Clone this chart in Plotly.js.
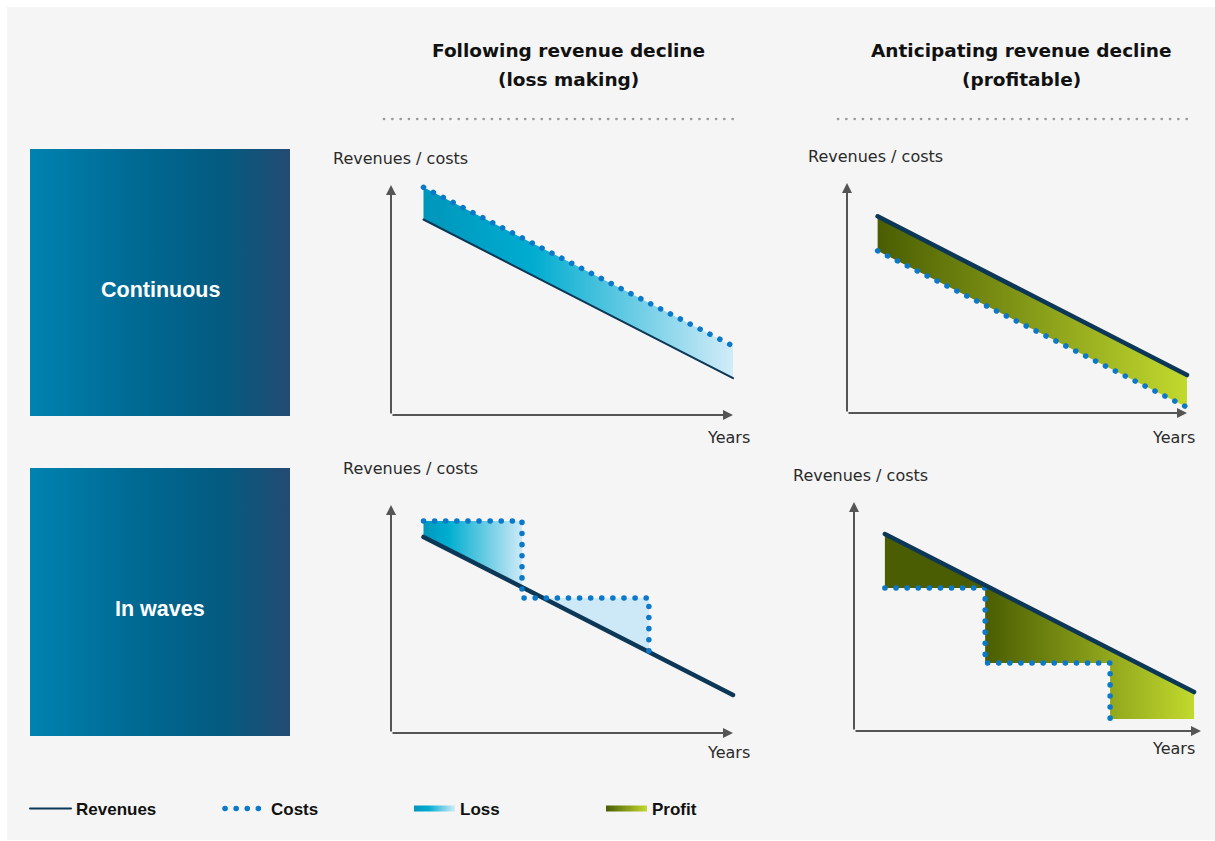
<!DOCTYPE html>
<html>
<head>
<meta charset="utf-8">
<script src="https://cdn.plot.ly/plotly-3.0.1.min.js"></script>
<style>
  html, body { margin: 0; padding: 0; background: #ffffff; }
  #chart { width: 1215px; height: 841px; }
  /* round dots for the dotted cost lines and separators */
  #chart .js-line { stroke-linecap: round; }
  #chart .shapelayer path { stroke-linecap: round; }
</style>
</head>
<body>
<div id="chart"></div>
<script>
const W = 1215, H = 841;

// Headings and labels
const columnTitles = [['Following revenue decline', '(loss making)'], ['Anticipating revenue decline', '(profitable)']];
const rowLabels = ['Continuous', 'In waves'];
const yLabel = 'Revenues / costs';
const xLabel = 'Years';
const legendNames = ['Revenues', 'Costs', 'Loss', 'Profit'];

// Continuous decline: straight lines from first to last year
const lossContYears = [0.95, 10];
const lossContRevenues = [8.5, 1.6];
const lossContCosts = [9.9, 3.0];

const profitContYears = [0.9, 10];
const profitContRevenues = [8.55, 1.65];
const profitContCosts = [7.05, 0.25];

// Decline in waves: revenues fall steadily, costs move in steps
const lossWaveYears = [0.95, 10];
const lossWaveRevenues = [8.6, 1.67];
const lossWaveStepYears = [0.95, 3.83, 7.54];
const lossWaveStepCosts = [9.3, 5.92, 3.42];

const profitWaveYears = [0.89, 9.8];
const profitWaveRevenues = [8.6, 1.7];
const profitWaveStepYears = [0.89, 3.78, 7.38];
const profitWaveStepCosts = [6.24, 2.97, 0.52];

// Colours
const REV = '#0c3756';
const COST = '#0b78c9';
const AXIS = '#555555';
const lossScale = [[0, '#0096bb'], [0.35, '#00acd0'], [1, '#d2ecf9']];
const lossWaveScale = [[0, '#0098bc'], [0.25, '#00aed0'], [1, '#cde9f7']];
const profitScale = [[0, '#4a5d02'], [1, '#c2d92e']];
const boxScale = [[0, '#0082b0'], [0.4, '#006a93'], [0.75, '#045a80'], [1, '#244a72']];

// ---- helpers -------------------------------------------------------
function lineAt(xs, ys, x) { return ys[0] + (ys[1] - ys[0]) * (x - xs[0]) / (xs[1] - xs[0]); }
function xAt(xs, ys, y) { return xs[0] + (xs[1] - xs[0]) * (y - ys[0]) / (ys[1] - ys[0]); }

// area between two straight lines sharing the same years
function bandBetween(xs, upper, lower) {
  return {
    x: [xs[0], xs[1], xs[1], xs[0], xs[0]],
    y: [upper[0], upper[1], lower[1], lower[0], upper[0]]
  };
}

// area between a straight revenue line and a stepped cost line
function stepGap(revX, revY, stepX, stepY, costsAbove, extendLast) {
  const px = [], py = [];
  const n = stepX.length;
  const last = extendLast ? n : n - 1;
  for (let i = 0; i < last; i++) {
    const a = stepX[i];
    const b = i + 1 < n ? stepX[i + 1] : revX[revX.length - 1];
    const level = stepY[i];
    const cross = xAt(revX, revY, level);
    let x0 = a, x1 = b;
    if (costsAbove) x0 = Math.max(a, cross); else x1 = Math.min(b, cross);
    if (x1 <= x0) continue;
    if (px.length) { px.push(null); py.push(null); }
    px.push(x0, x1, x1, x0, x0);
    py.push(level, level, lineAt(revX, revY, x1), lineAt(revX, revY, x0), level);
  }
  return { x: px, y: py };
}

// ---- panel geometry (pixels: axis origin and arrow tips) -----------
const frames = [
  { ox: 391, oy: 415, tx: 733, ty: 185 },
  { ox: 847, oy: 413, tx: 1187, ty: 183 },
  { ox: 391, oy: 733, tx: 733, ty: 505 },
  { ox: 854, oy: 731, tx: 1201, ty: 502 }
];
const axisIds = [['x', 'y'], ['x2', 'y2'], ['x3', 'y3'], ['x4', 'y4']];

const layout = {
  width: W, height: H,
  margin: { l: 0, r: 0, t: 0, b: 0 },
  paper_bgcolor: '#ffffff',
  plot_bgcolor: 'rgba(0,0,0,0)',
  showlegend: true,
  hovermode: false,
  shapes: [
    { type: 'rect', xref: 'paper', yref: 'paper', x0: 7 / W, x1: 1, y0: 1 - 840 / H, y1: 1 - 7 / H,
      fillcolor: '#f5f5f5', line: { width: 0 }, layer: 'below' },
    { type: 'line', xref: 'paper', yref: 'paper', x0: 384 / W, x1: 739 / W, y0: 1 - 119 / H, y1: 1 - 119 / H,
      line: { color: '#9a9a9a', width: 2.6, dash: '0.1px,8.2px' } },
    { type: 'line', xref: 'paper', yref: 'paper', x0: 838 / W, x1: 1192 / W, y0: 1 - 119 / H, y1: 1 - 119 / H,
      line: { color: '#9a9a9a', width: 2.6, dash: '0.1px,8.2px' } }
  ],
  annotations: []
};

// One legend box per key so each entry sits at its own position along the bottom
const legendIds = ['legend', 'legend2', 'legend3', 'legend4'];
const legendLeft = [25, 220, 409, 601];
legendIds.forEach((id, i) => {
  layout[id] = {
    orientation: 'h', x: legendLeft[i] / W, xanchor: 'left', y: 1 - 809 / H, yanchor: 'middle',
    font: { family: 'Liberation Sans, Arial, sans-serif', size: 17, color: '#111111', weight: 700 },
    itemwidth: 41, bgcolor: 'rgba(0,0,0,0)', borderwidth: 0,
    itemclick: false, itemdoubleclick: false
  };
});

const hiddenAxis = { visible: false, showgrid: false, zeroline: false, fixedrange: true };

frames.forEach((f, i) => {
  const sx = (f.tx - f.ox) / 10, sy = (f.oy - f.ty) / 10;
  const left = f.ox - 22, right = Math.min(W, f.tx + 18);
  const bottom = f.oy + 22, top = f.ty - 18;
  const xr = [(left - f.ox) / sx, (right - f.ox) / sx];
  const yr = [(f.oy - bottom) / sy, (f.oy - top) / sy];
  const xk = i === 0 ? 'xaxis' : 'xaxis' + (i + 1);
  const yk = i === 0 ? 'yaxis' : 'yaxis' + (i + 1);
  layout[xk] = Object.assign({}, hiddenAxis, { domain: [left / W, right / W], range: xr, anchor: axisIds[i][1] });
  layout[yk] = Object.assign({}, hiddenAxis, { domain: [1 - bottom / H, 1 - top / H], range: yr, anchor: axisIds[i][0] });

  const [xa, ya] = axisIds[i];
  const arrow = { xref: xa, yref: ya, axref: xa, ayref: ya, ax: 0, ay: 0, text: '', showarrow: true,
    arrowhead: 2, arrowsize: 1, arrowwidth: 2, arrowcolor: AXIS, standoff: 0, startstandoff: 0 };
  layout.annotations.push(Object.assign({}, arrow, { x: 10, y: 0 }));
  layout.annotations.push(Object.assign({}, arrow, { x: 0, y: 10 }));
});

// text placed by its centre in page pixels
function label(text, cx, cy, font) {
  return { xref: 'paper', yref: 'paper', x: cx / W, y: 1 - cy / H, xanchor: 'center', yanchor: 'middle',
    text: text, showarrow: false, font: font };
}

// Box panels for the row headings
const boxes = [{ x0: 30, x1: 290, y0: 149, y1: 416 }, { x0: 30, x1: 290, y0: 468, y1: 736 }];
const rowLabelY = [290, 609];
const rowFont = { family: 'Liberation Sans, Arial, sans-serif', size: 21.5, color: '#ffffff', weight: 700 };
boxes.forEach((b, i) => {
  const n = i + 5;
  layout['xaxis' + n] = Object.assign({}, hiddenAxis, { domain: [b.x0 / W, b.x1 / W], range: [0, 1], anchor: 'y' + n });
  layout['yaxis' + n] = Object.assign({}, hiddenAxis, { domain: [1 - b.y1 / H, 1 - b.y0 / H], range: [0, 1], anchor: 'x' + n });
  layout.annotations.push(label(rowLabels[i], (b.x0 + b.x1) / 2, rowLabelY[i], rowFont));
});

// Column titles
const titleFont = { family: 'DejaVu Sans, sans-serif', size: 18.5, color: '#111111', weight: 700 };
[[568, columnTitles[0]], [1021, columnTitles[1]]].forEach(([cx, lines]) => {
  layout.annotations.push(label(lines[0], cx, 50, titleFont));
  layout.annotations.push(label(lines[1], cx, 79, titleFont));
});

// Axis captions
const capFont = { family: 'DejaVu Sans, sans-serif', size: 16, color: '#2a2a2a' };
const yCaps = [[400, 158], [875, 157], [410, 468], [861, 475]];
const xCaps = [[728, 437], [1173, 437], [728, 752], [1173, 748]];
yCaps.forEach(([cx, cy]) => layout.annotations.push(label(yLabel, cx, cy, capFont)));
xCaps.forEach(([cx, cy]) => layout.annotations.push(label(xLabel, cx, cy, capFont)));

// ---- traces --------------------------------------------------------
const traces = [];
const dotted = { color: COST, width: 5.5, dash: '0.1px,11px' };

function fillTrace(poly, xa, ya, grad, opts) {
  return Object.assign({
    type: 'scatter', mode: 'none', x: poly.x, y: poly.y, xaxis: xa, yaxis: ya,
    fill: 'toself', fillgradient: grad, hoverinfo: 'skip', showlegend: false, connectgaps: false
  }, opts || {});
}

// Row boxes
boxes.forEach((b, i) => {
  const n = i + 5;
  traces.push(fillTrace({ x: [0, 1, 1, 0, 0], y: [0, 0, 1, 1, 0] }, 'x' + n, 'y' + n,
    { type: 'horizontal', colorscale: boxScale }));
});

// Continuous / loss making
traces.push(fillTrace(bandBetween(lossContYears, lossContCosts, lossContRevenues), 'x', 'y',
  { type: 'horizontal', colorscale: lossScale }, { name: legendNames[2], showlegend: true, legend: legendIds[2] }));
traces.push({ type: 'scatter', mode: 'lines', x: lossContYears, y: lossContRevenues, xaxis: 'x', yaxis: 'y',
  line: { color: REV, width: 2 }, name: legendNames[0], showlegend: true, legend: legendIds[0], hoverinfo: 'skip' });
traces.push({ type: 'scatter', mode: 'lines', x: lossContYears, y: lossContCosts, xaxis: 'x', yaxis: 'y',
  line: dotted, name: legendNames[1], showlegend: true, legend: legendIds[1], hoverinfo: 'skip' });

// Continuous / profitable
traces.push(fillTrace(bandBetween(profitContYears, profitContRevenues, profitContCosts), 'x2', 'y2',
  { type: 'horizontal', colorscale: profitScale }, { name: legendNames[3], showlegend: true, legend: legendIds[3] }));
traces.push({ type: 'scatter', mode: 'lines', x: profitContYears, y: profitContCosts, xaxis: 'x2', yaxis: 'y2',
  line: dotted, showlegend: false, hoverinfo: 'skip' });
traces.push({ type: 'scatter', mode: 'lines', x: profitContYears, y: profitContRevenues, xaxis: 'x2', yaxis: 'y2',
  line: { color: REV, width: 4.5 }, showlegend: false, hoverinfo: 'skip' });

// In waves / loss making
traces.push(fillTrace(stepGap(lossWaveYears, lossWaveRevenues, lossWaveStepYears, lossWaveStepCosts, true, false), 'x3', 'y3',
  { type: 'horizontal', colorscale: lossWaveScale, start: lossWaveStepYears[0], stop: lossWaveStepYears[1] }));
traces.push({ type: 'scatter', mode: 'lines', x: lossWaveYears, y: lossWaveRevenues, xaxis: 'x3', yaxis: 'y3',
  line: { color: REV, width: 4.5 }, showlegend: false, hoverinfo: 'skip' });
traces.push({ type: 'scatter', mode: 'lines', x: lossWaveStepYears, y: lossWaveStepCosts, xaxis: 'x3', yaxis: 'y3',
  line: Object.assign({ shape: 'hv' }, dotted), showlegend: false, hoverinfo: 'skip' });

// In waves / profitable
traces.push(fillTrace(stepGap(profitWaveYears, profitWaveRevenues, profitWaveStepYears, profitWaveStepCosts, false, true), 'x4', 'y4',
  { type: 'horizontal', colorscale: profitScale, start: profitWaveStepYears[1], stop: profitWaveYears[1] }));
traces.push({ type: 'scatter', mode: 'lines', x: profitWaveStepYears, y: profitWaveStepCosts, xaxis: 'x4', yaxis: 'y4',
  line: Object.assign({ shape: 'hv' }, dotted), showlegend: false, hoverinfo: 'skip' });
traces.push({ type: 'scatter', mode: 'lines', x: profitWaveYears, y: profitWaveRevenues, xaxis: 'x4', yaxis: 'y4',
  line: { color: REV, width: 4.5 }, showlegend: false, hoverinfo: 'skip' });

Plotly.newPlot('chart', traces, layout, { staticPlot: true, displayModeBar: false });
</script>
</body>
</html>
